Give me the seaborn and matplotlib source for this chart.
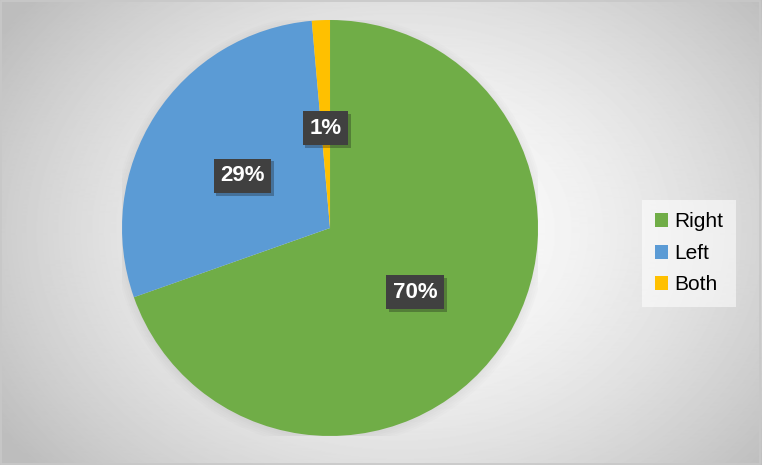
import matplotlib.pyplot as plt
import matplotlib.patheffects as pe
import numpy as np
import seaborn as sns

# data
categories = ["Right", "Left", "Both"]
shares = [69.6, 29.0, 1.4]
pct_labels = ["70%", "29%", "1%"]
colors = ["#70AD47", "#5B9BD5", "#FFC000"]

sns.set_theme(style="white")
plt.rcParams['font.family'] = ['Liberation Sans', 'DejaVu Sans']

fig = plt.figure(figsize=(7.62, 4.65), dpi=100)

# radial grey background
bg = fig.add_axes([0, 0, 1, 1])
yy, xx = np.mgrid[0:465, 0:762]
r = np.sqrt(((xx - 400) / 430.0) ** 2 + ((yy - 232) / 330.0) ** 2)
shade = np.clip(1.0 - 0.22 * r ** 1.6, 0.74, 1.0)
bg.imshow(shade, cmap="gray", vmin=0, vmax=1, aspect="auto",
          extent=[0, 1, 0, 1], origin="upper")
bg.set_axis_off()
bg.add_patch(plt.Rectangle((0.001, 0.002), 0.997, 0.995, transform=bg.transAxes,
                           fill=False, ec="#c8c8c8", lw=1.2))

ax = fig.add_axes([0.1601, 0.0624, 0.546, 0.8946])
ax.set_axis_off()

# soft shadow under the pie
for i in range(5):
    ax.add_patch(plt.Circle((0.0, -0.01), 1.0 + 0.01 * i, color="#909090",
                            alpha=0.03, lw=0, zorder=0))

wedges, _ = ax.pie(shares, colors=colors, startangle=90, counterclock=False,
                   radius=1.0, wedgeprops=dict(lw=0))
ax.set_xlim(-1.0, 1.0)
ax.set_ylim(-1.0, 1.0)
ax.set_aspect("equal")

# percentage boxes
for w, lab in zip(wedges, pct_labels):
    ang = np.deg2rad((w.theta1 + w.theta2) / 2)
    x, y = 0.5 * np.cos(ang), 0.5 * np.sin(ang) - 0.02
    ax.text(x, y, lab, ha="center", va="center", color="white", fontsize=16,
            fontweight="bold", zorder=5,
            bbox=dict(boxstyle="square,pad=0.3", fc="#404040", ec="none",
                      path_effects=[pe.SimplePatchShadow(offset=(2, -2), alpha=0.3),
                                    pe.Normal()]))

handles = [plt.Rectangle((0, 0), 1, 1, fc=c, ec="none") for c in colors]
leg = fig.legend(handles, categories, loc="center left",
                 bbox_to_anchor=(0.843, 0.455), fontsize=15, frameon=True,
                 handlelength=0.65, handleheight=0.65, handletextpad=0.3,
                 labelspacing=0.6, borderpad=0.6, borderaxespad=0,
                 fancybox=False, labelcolor="black")
leg.get_frame().set_facecolor("white")
leg.get_frame().set_alpha(0.55)
leg.get_frame().set_edgecolor("none")

fig.savefig("out.png", dpi=100)
